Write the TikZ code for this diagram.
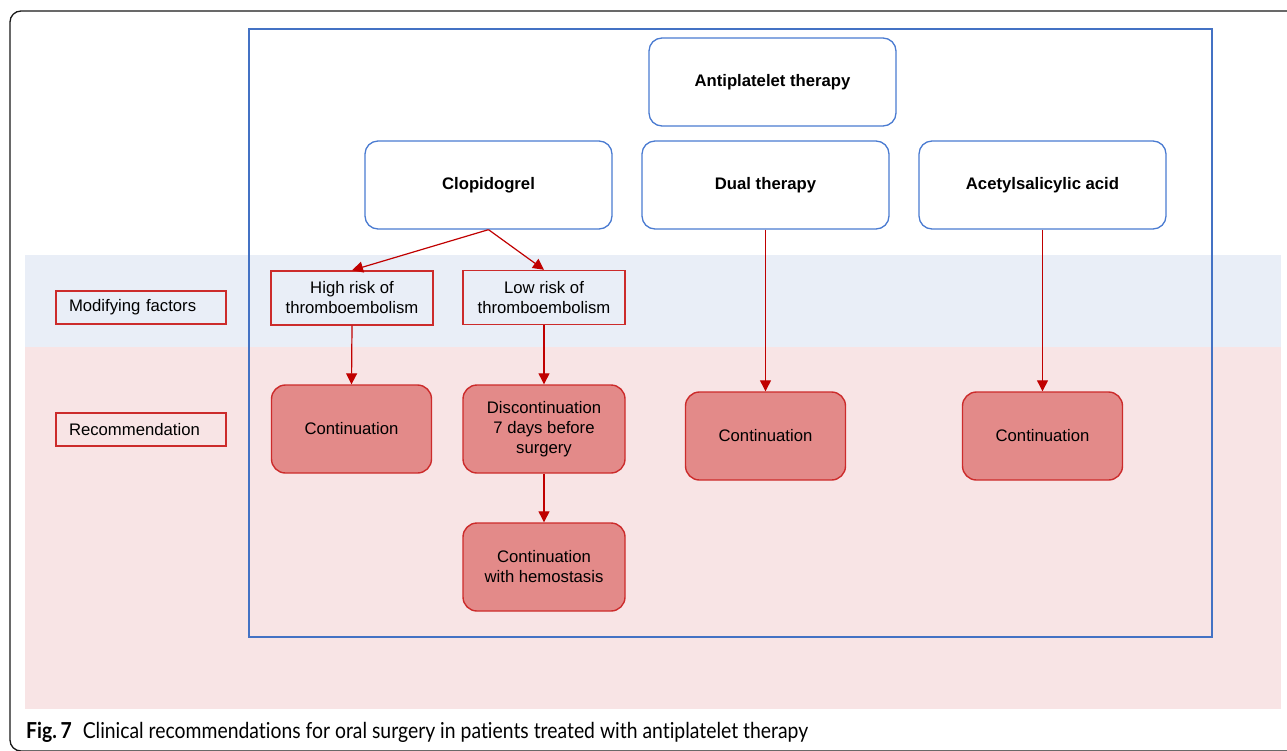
\documentclass[tikz,border=0pt]{standalone}
\usepackage{fontspec}
\setmainfont{Liberation Sans}
\newfontfamily\capfont[FakeStretch=0.88,Ligatures=NoCommon]{Lato}
\usetikzlibrary{arrows.meta}

\definecolor{bluebd}{HTML}{4A7BD1}
\definecolor{frameblue}{HTML}{4472C4}
\definecolor{redbd}{HTML}{CC2B2B}
\definecolor{arrred}{HTML}{C00000}
\definecolor{recfill}{HTML}{E38A89}
\definecolor{bandblue}{HTML}{E9EEF7}
\definecolor{bandpink}{HTML}{F8E4E5}

\tikzset{
  txt/.style={font=\fontsize{16.7}{20}\selectfont},
  topbox/.style={txt, draw=bluebd, line width=1.3pt, rounded corners=13pt,
    fill=white, minimum width=247pt, minimum height=88pt, inner sep=0pt,
    font=\fontsize{16.7}{20}\selectfont\bfseries},
  riskbox/.style={txt, draw=redbd, line width=1.4pt, minimum width=162pt,
    minimum height=54pt, inner sep=0pt, align=center},
  sidelabel/.style={txt, draw=redbd, line width=1.4pt, text width=144pt,
    inner xsep=13pt, inner ysep=0pt, minimum height=33pt, align=left},
  recbox/.style={txt, draw=redbd, fill=recfill, line width=1.4pt,
    rounded corners=14pt, minimum width=160pt, minimum height=88pt,
    inner sep=0pt, align=center},
  arr/.style={draw=arrred, line width=1.2pt,
    -{Triangle[length=11pt,width=11pt]}}
}

\begin{document}
\begin{tikzpicture}[x=1pt,y=-1pt]
\useasboundingbox (0,0) rectangle (1287,750);
\clip (0,0) rectangle (1287,750);

% outer panel frame
\draw[line width=1.3pt, draw=black!90, rounded corners=11pt]
  (10,11) rectangle (1310,751);

% horizontal bands
\fill[bandblue] (25,255) rectangle (1281,347);
\fill[bandpink] (25,347) rectangle (1281,709);

% inner frame
\draw[frameblue, line width=2.5pt] (249,29) rectangle (1212,637);

% drug boxes
\node[topbox] (anti) at (772.5,82) {Antiplatelet therapy};
\node[topbox] (clop) at (488.5,185) {Clopidogrel};
\node[topbox] (dual) at (765.5,185) {Dual therapy};
\node[topbox] (asa) at (1042.5,185) {Acetylsalicylic acid};

% side labels
\node[sidelabel] (modf) at (141,307.5) {Modifying factors};
\node[sidelabel] (recl) at (141,429.5) {Recommendation};

% modifying factors
\node[riskbox] (high) at (352,298) {High risk of\\thromboembolism};
\node[riskbox] (low) at (544,297.5) {Low risk of\\thromboembolism};

% recommendations
\node[recbox] (conthigh) at (351.5,429) {Continuation};
\node[recbox, minimum width=162pt] (disc) at (544,429) {Discontinuation\\7 days before\\surgery};
\node[recbox, minimum width=162pt] (hemo) at (544,567) {Continuation\\with hemostasis};
\node[recbox] (contdual) at (765.5,436) {Continuation};
\node[recbox] (contasa) at (1042.5,436) {Continuation};

% connectors
\draw[arr] (clop.south) -- (high.north);
\draw[arr] (clop.south) -- (low.north);
\draw[arr] (high.south) -- (conthigh.north);
\draw[arr] (low.south) -- (disc.north);
\draw[arr] (disc.south) -- (hemo.north);
\draw[arr] (dual.south) -- (contdual.north);
\draw[arr] (asa.south) -- (contasa.north);

% caption
\node[anchor=base west, inner sep=0pt] (cap) at (26,738)
  {\capfont\fontsize{22}{26}\selectfont\textbf{Fig.\,7}\hspace{11pt}Clinical recommendations for oral surgery in patients treated with antiplatelet therapy};
\end{tikzpicture}
\end{document}
